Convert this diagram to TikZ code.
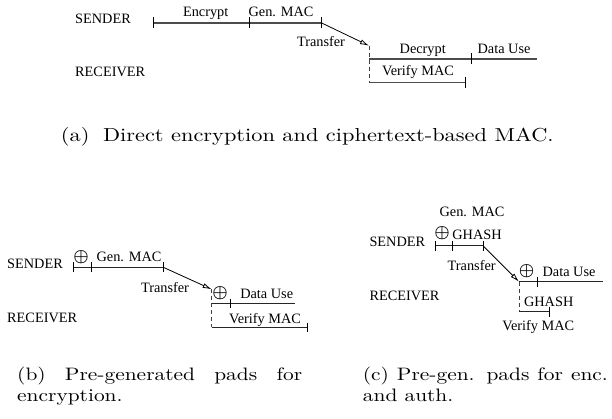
\documentclass[tikz,border=0pt]{standalone}
\usepackage{amsmath}
\usepackage{fontspec}
\setmainfont{Liberation Serif}
\newfontfamily\capfont[FakeStretch=1.19]{lmroman10-regular.otf}
\usetikzlibrary{arrows.meta}
\tikzset{
  lbl/.style={font=\fontsize{14.3}{16}\selectfont, inner sep=0pt, anchor=base},
  lblw/.style={lbl, anchor=base west},
  bar/.style={draw=black!70, line width=1.3pt},
  barb/.style={draw=black!85, line width=1pt},
  tickmark/.style={draw=black, line width=0.8pt},
  xfer/.style={draw=black, line width=0.8pt, -{Latex[open,length=9pt,width=5pt]}},
  vdashed/.style={draw=black!75, line width=0.9pt, dash pattern=on 4pt off 3pt},
  oplusn/.style={inner sep=0pt, font=\fontsize{16.5}{19}\selectfont},
  capfnt/.style={font=\capfont\fontsize{18}{21}\selectfont, inner sep=0pt},
  capt/.style={capfnt, anchor=base west},
  tk/.pic={\draw[tickmark] (0,-5.5) -- (0,5.5);},
  tks/.pic={\draw[tickmark] (0,-4.8) -- (0,4.8);}
}
\begin{document}
\begin{tikzpicture}[x=1pt,y=-1pt]
\useasboundingbox (0,0) rectangle (612,419);

% ================= (a) =================
\node[lblw] (aS) at (75,23.3) {SENDER};
\node[lblw] (aR) at (75,77) {RECEIVER};
\coordinate (a1) at (153.3,23);
\coordinate (a2) at (249.3,23);
\coordinate (a3) at (321.7,23);
\draw[bar] (a1) -- (a3);
\pic at (a1) {tk}; \pic at (a2) {tk}; \pic at (a3) {tk};
\node[lbl] (aEnc) at (205.7,17) {Encrypt};
\node[lbl] (aGen) at (281,17) {Gen. MAC};
\node[lbl] (aTr) at (321,46.5) {Transfer};
\coordinate (r1) at (369,45.7);
\draw[xfer] (a3) -- (r1);
\coordinate (r2) at (369,59);
\coordinate (r3) at (471.7,59);
\coordinate (r4) at (537,59);
\coordinate (r5) at (369,82.7);
\coordinate (r6) at (465,82.7);
\draw[vdashed] (r1) -- (r5);
\draw[bar] (r2) -- (r4);
\draw[bar] (r5) -- (r6);
\pic at (r3) {tk}; \pic at (r6) {tk};
\node[lbl] (aDec) at (422.7,53.5) {Decrypt};
\node[lbl] (aDU) at (504,53.5) {Data Use};
\node[lbl] (aVer) at (418,76) {Verify MAC};
\node[font=\capfont\fontsize{18.8}{22}\selectfont, inner sep=0pt, anchor=base] (capa) at (307.3,141.5) {(a)\hspace{6pt} Direct encryption and ciphertext-based MAC.};

% ================= (b) =================
\node[lblw] (bS) at (7,268.3) {SENDER};
\node[lblw] (bR) at (7,322.7) {RECEIVER};
\coordinate (b1) at (73.7,267.3);
\coordinate (b2) at (91.7,267.3);
\coordinate (b3) at (163.3,267.3);
\draw[barb] (b1) -- (b3);
\pic at (b1) {tks}; \pic at (b2) {tks}; \pic at (b3) {tks};
\node[oplusn] (bX1) at (81,256.7) {$\boldsymbol{\oplus}$};
\node[lbl] (bGen) at (129,261.5) {Gen. MAC};
\node[lbl] (bTr) at (165,292.5) {Transfer};
\coordinate (s1) at (211.7,289.3);
\draw[xfer] (b3) -- (s1);
\coordinate (s2) at (211.7,303.3);
\coordinate (s3) at (230,303.3);
\coordinate (s4) at (295,303.3);
\coordinate (s5) at (211.7,327.3);
\coordinate (s6) at (307.3,327.3);
\draw[vdashed] (s1) -- (s5);
\draw[barb] (s2) -- (s4);
\draw[barb] (s5) -- (s6);
\pic at (s3) {tks}; \pic at (s6) {tks};
\node[oplusn] (bX2) at (220,292.7) {$\boldsymbol{\oplus}$};
\node[lbl] (bDU) at (266.7,298) {Data Use};
\node[lbl] (bVer) at (265,323) {Verify MAC};
\node[capt] (capb1) at (17,380.6) {\makebox[285pt][s]{(b) Pre-generated pads for}};
\node[capt] (capb2) at (17,401.8) {encryption.};

% ================= (c) =================
\node[lblw] (cS) at (369.3,246.7) {SENDER};
\node[lblw] (cR) at (369.3,300) {RECEIVER};
\node[lbl] (cGen) at (472,216.7) {Gen. MAC};
\coordinate (c1) at (435,246);
\coordinate (c2) at (452.7,246);
\coordinate (c3) at (483.3,246);
\draw[barb] (c1) -- (c3);
\pic at (c1) {tks}; \pic at (c2) {tks}; \pic at (c3) {tks};
\node[oplusn] (cX1) at (442,232.7) {$\boldsymbol{\oplus}$};
\node[lbl] (cGH1) at (477,240) {GHASH};
\node[lbl] (cTr) at (471.7,270.5) {Transfer};
\coordinate (t1) at (519,281.7);
\draw[xfer] (c3) -- (t1);
\coordinate (t3) at (537.3,281.7);
\coordinate (t4) at (603.3,281.7);
\coordinate (t5) at (519,311.7);
\coordinate (t6) at (549.3,311.7);
\draw[vdashed] (t1) -- (t5);
\draw[barb] (t1) -- (t4);
\draw[barb] (t5) -- (t6);
\pic at (t3) {tks}; \pic at (t6) {tks};
\node[oplusn] (cX2) at (526.7,270.7) {$\boldsymbol{\oplus}$};
\node[lbl] (cDU) at (569,276.5) {Data Use};
\node[lbl] (cGH2) at (548.7,306.5) {GHASH};
\node[lbl] (cVer) at (538.3,330) {Verify MAC};
\node[capt] (capc1) at (362.7,380.6) {\makebox[245pt][s]{(c) Pre-gen. pads for enc.}};
\node[capt] (capc2) at (362.7,401.8) {and auth.};
\end{tikzpicture}
\end{document}
